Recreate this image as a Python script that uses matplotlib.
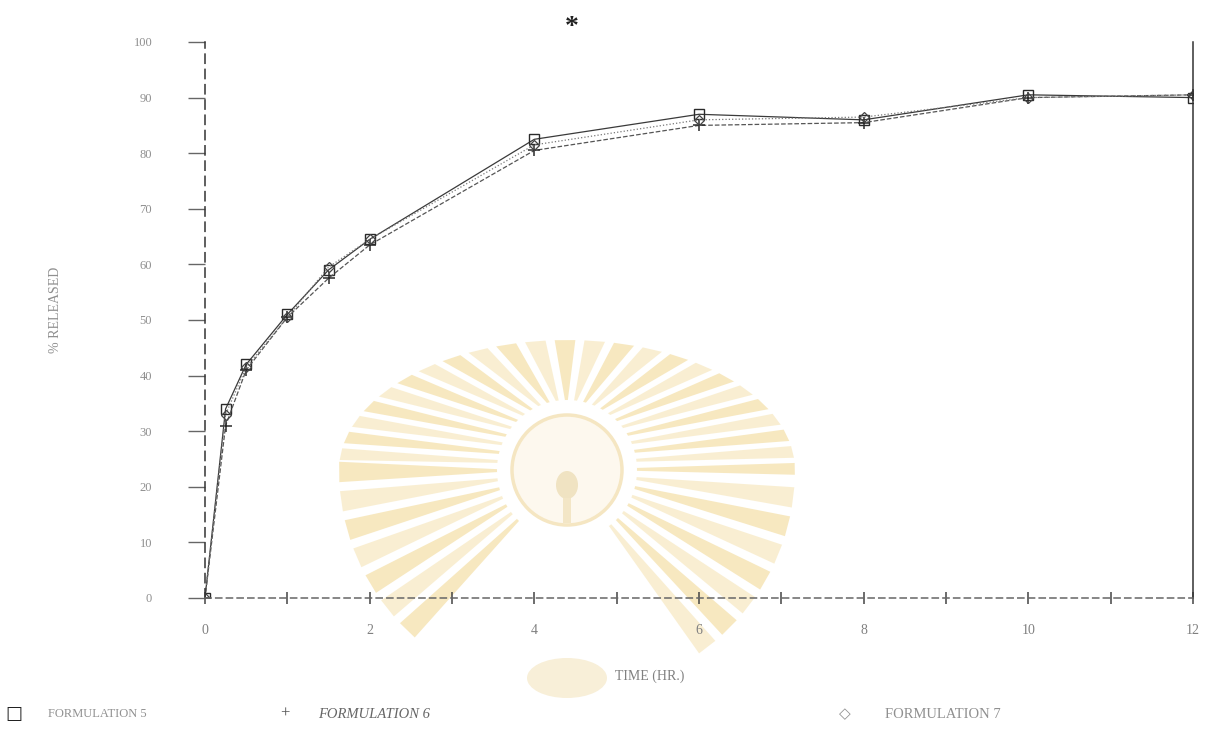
import matplotlib.pyplot as plt
from matplotlib.patches import Polygon, Circle, Ellipse, Rectangle
import numpy as np

plt.rcParams['font.family'] = ['Liberation Serif', 'DejaVu Sans']

# sampling times (hr) and % released for each formulation
hours = [0, 0.25, 0.5, 1, 1.5, 2, 4, 6, 8, 10, 12]
form5 = [0, 34, 42, 51, 59, 64.5, 82.5, 87, 86, 90.5, 90]
form6 = [0, 31, 41, 50.5, 57.5, 63.5, 80.5, 85, 85.5, 90, 90.5]
form7 = [0, 33, 41.5, 50.5, 59.5, 64.5, 81.5, 86, 86.5, 90, 90.5]

labels = ['FORMULATION 5', 'FORMULATION 6', 'FORMULATION 7']
x_ticks = [0, 2, 4, 6, 8, 10, 12]
y_ticks = [0, 10, 20, 30, 40, 50, 60, 70, 80, 90, 100]

W, H = 1206, 730
fig = plt.figure(figsize=(W / 100, H / 100), dpi=100)

# pale sunburst emblem behind the plot (pixel coords, y flipped)
bg = fig.add_axes([0, 0, 1, 1])
bg.set_xlim(0, W)
bg.set_ylim(H, 0)
bg.axis('off')
cx, cy = 567, 470
for i, a in enumerate(np.arange(-52, 233, 7.5)):
    ra = np.radians(a)
    rx_out = 228
    ry_out = 130 if np.sin(ra) >= 0 else 225
    r_in = 70
    pts = []
    for d in (-1.2, 1.2):
        t = np.radians(a + d)
        pts.append((cx + r_in * np.cos(t), cy - r_in * np.sin(t)))
    for d in (2.6, -2.6):
        t = np.radians(a + d)
        pts.append((cx + rx_out * np.cos(t), cy - ry_out * np.sin(t)))
    col = '#f4dfa6' if i % 2 else '#f7e8c0'
    bg.add_patch(Polygon(pts, closed=True, color=col, alpha=0.7, lw=0))
bg.add_patch(Circle((cx, cy), 55, color='#fdf8ee', lw=0))
bg.add_patch(Circle((cx, cy), 55, fill=False, ec='#f5e6c2', lw=2.5))
bg.add_patch(Ellipse((cx, cy + 15), 22, 28, color='#f0e3c2', lw=0))
bg.add_patch(Rectangle((cx - 4, cy + 28), 8, 25, color='#f3e6c6', lw=0))
bg.add_patch(Ellipse((cx, cy + 208), 80, 40, color='#f8efd8', lw=0))

ax = fig.add_axes([205 / W, 132 / H, 988 / W, 556 / H])
ax.patch.set_alpha(0)

ax.plot(hours, form5, color='#3a3a3a', lw=0.9, ls='-', marker='s',
        mfc='none', mec='#2a2a2a', ms=7, mew=1.0)
ax.plot(hours, form6, color='#555555', lw=0.9, ls='--', marker='+',
        mec='#2a2a2a', ms=8, mew=1.1)
ax.plot(hours, form7, color='#777777', lw=0.9, ls=':', marker='D',
        mfc='none', mec='#444444', ms=5, mew=0.9)

ax.set_xlim(0, 12)
ax.set_ylim(0, 100)
ax.set_xticks(x_ticks)
ax.set_xticks(range(0, 13), minor=True)
ax.set_yticks(y_ticks)

ax.spines['top'].set_visible(False)
ax.spines['left'].set_linestyle((0, (6, 4)))
ax.spines['left'].set_color('#333333')
ax.spines['bottom'].set_linestyle((0, (4, 3)))
ax.spines['bottom'].set_color('#666666')
ax.spines['right'].set_color('#333333')
for s in ax.spines.values():
    s.set_linewidth(1.1)

ax.tick_params(axis='x', which='both', direction='inout', length=9,
               width=1.1, color='#444444', labelcolor='#808080',
               labelsize=10, pad=14)
ax.tick_params(axis='y', direction='out', length=12, width=1.0,
               color='#666666', labelcolor='#8f8f8f', labelsize=9, pad=26)

fig.text(650 / W, 1 - 676 / H, 'TIME (HR.)', ha='center', va='center',
         color='#808080', fontsize=10)
fig.text(56 / W, 1 - 310 / H, '% RELEASED', rotation=90, ha='center',
         va='center', color='#8f8f8f', fontsize=10)

# legend row along the bottom
ly = 1 - 714 / H
fig.text(14 / W, ly, '\u25a1', ha='center', va='center', color='#222222',
         fontsize=13, family='DejaVu Sans')
fig.text(48 / W, ly, labels[0], ha='left', va='center', color='#909090',
         fontsize=9)
fig.text(285 / W, ly, '+', ha='center', va='center', color='#555555',
         fontsize=12)
fig.text(318 / W, ly, labels[1], ha='left', va='center', color='#666666',
         fontsize=10.5, style='italic')
fig.text(845 / W, ly, '\u25c7', ha='center', va='center', color='#909090',
         fontsize=11, family='DejaVu Sans')
fig.text(885 / W, ly, labels[2], ha='left', va='center', color='#909090',
         fontsize=10.5)

fig.text(572 / W, 1 - 27 / H, '*', ha='center', va='center', color='#222222',
         fontsize=20, weight='bold')

fig.savefig('out.png', dpi=100)
